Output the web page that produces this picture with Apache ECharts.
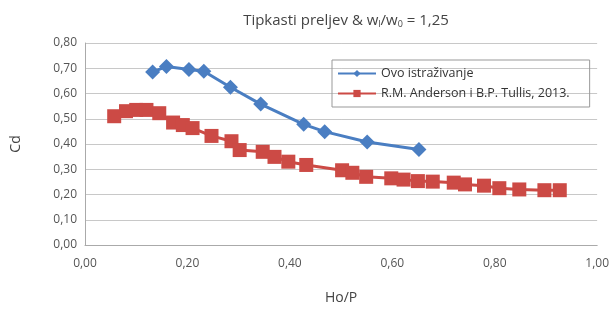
<!DOCTYPE html>
<html>
<head>
<meta charset="utf-8">
<script src="https://cdn.jsdelivr.net/npm/echarts@6/dist/echarts.min.js"></script>
<style>
  html, body { margin: 0; padding: 0; background: #fff; }
  #chart { width: 612px; height: 310px; }
</style>
</head>
<body>
<div id="chart"></div>
<script>
// Ovo istraživanje
var blueX = [0.132, 0.159, 0.203, 0.232, 0.284, 0.343, 0.427, 0.468, 0.551, 0.652];
var blueY = [0.685, 0.707, 0.695, 0.688, 0.625, 0.558, 0.478, 0.449, 0.408, 0.378];
// R.M. Anderson i B.P. Tullis, 2013.
var redX = [0.057, 0.08, 0.10, 0.12, 0.145, 0.172, 0.191, 0.21, 0.247, 0.286, 0.302, 0.347,
  0.37, 0.397, 0.432, 0.502, 0.522, 0.549, 0.598, 0.622, 0.65, 0.679, 0.72, 0.742, 0.779,
  0.809, 0.848, 0.897, 0.927];
var redY = [0.51, 0.53, 0.535, 0.535, 0.522, 0.485, 0.475, 0.463, 0.432, 0.411, 0.376, 0.369,
  0.349, 0.33, 0.317, 0.296, 0.286, 0.27, 0.264, 0.259, 0.253, 0.251, 0.247, 0.24, 0.235,
  0.225, 0.22, 0.217, 0.217];
var seriesNames = ["Ovo istraživanje", "R.M. Anderson i B.P. Tullis, 2013."];

function pairs(xs, ys) {
  return xs.map(function (x, i) { return [x, ys[i]]; });
}
function comma(v) {
  return v.toFixed(2).replace(".", ",");
}

var font = "Open Sans";
var myChart = echarts.init(document.getElementById("chart"));
var option = {
  animation: false,
  textStyle: { fontFamily: font },
  title: {
    text: "{a|Tipkasti preljev & w}{s|l}{a|/w}{s|0}{a| = 1,25}",
    left: 341,
    top: 8,
    textAlign: "center",
    textStyle: {
      fontWeight: "normal",
      rich: {
        a: { fontSize: 15, color: "#444", fontFamily: font, fontWeight: "normal" },
        s: { fontSize: 9, color: "#444", fontFamily: font, fontWeight: "normal", verticalAlign: "bottom", padding: [7, 0, 0, 0] }
      }
    }
  },
  legend: {
    data: seriesNames,
    orient: "vertical",
    left: 332,
    top: 60,
    padding: [7, 20, 7, 5],
    itemGap: 7,
    itemWidth: 38,
    itemHeight: 9,
    borderColor: "#999",
    borderWidth: 1,
    textStyle: { fontSize: 12.5, color: "#333", fontFamily: font }
  },
  grid: { left: 85, right: 14, top: 43, bottom: 62 },
  xAxis: {
    type: "value",
    min: 0,
    max: 1,
    interval: 0.2,
    name: "Ho/P",
    nameLocation: "middle",
    nameGap: 46,
    nameTextStyle: { fontSize: 14, color: "#444" },
    axisLine: { show: true, lineStyle: { color: "#aaa" } },
    axisTick: { show: false },
    splitLine: { show: false },
    axisLabel: { formatter: comma, fontSize: 12, color: "#555", margin: 13 }
  },
  yAxis: {
    type: "value",
    min: 0,
    max: 0.8,
    interval: 0.1,
    name: "Cd",
    nameLocation: "middle",
    nameGap: 62,
    nameTextStyle: { fontSize: 14, color: "#444" },
    axisLine: { show: true, lineStyle: { color: "#aaa" } },
    axisTick: { show: false },
    splitLine: { lineStyle: { color: "#c8c8c8" } },
    axisLabel: { formatter: comma, fontSize: 12, color: "#555", margin: 8 }
  },
  series: [
    {
      name: seriesNames[0],
      type: "line",
      data: pairs(blueX, blueY),
      symbol: "diamond",
      symbolSize: 15,
      z: 3,
      lineStyle: { color: "#4a7ec2", width: 3 },
      itemStyle: { color: "#4a7ec2" }
    },
    {
      name: seriesNames[1],
      type: "line",
      data: pairs(redX, redY),
      symbol: "rect",
      symbolSize: 14,
      z: 2,
      lineStyle: { color: "#cc4a45", width: 3 },
      itemStyle: { color: "#cc4a45" }
    }
  ]
};
myChart.setOption(option);
</script>
</body>
</html>
